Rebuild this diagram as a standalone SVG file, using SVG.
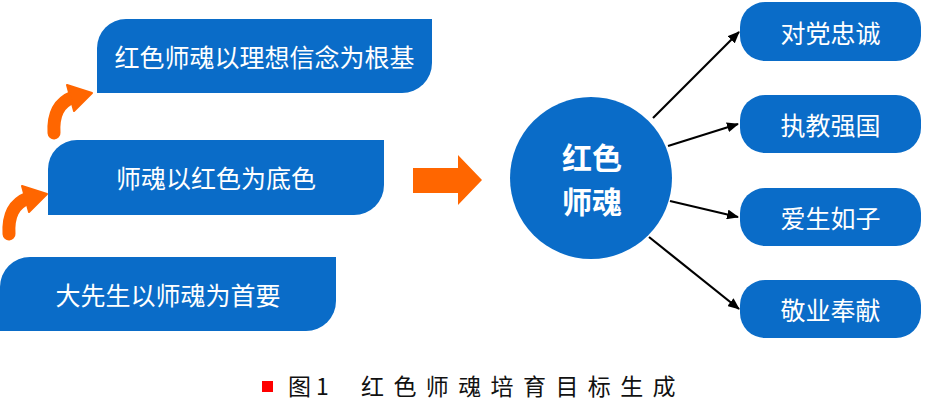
<svg xmlns="http://www.w3.org/2000/svg" width="933" height="416" viewBox="0 0 933 416">
<style>
.box{fill:#0A6CC8;}
.t{font-family:"Noto Sans CJK SC","Microsoft YaHei",sans-serif;font-size:25px;fill:#fff;text-anchor:middle;dominant-baseline:central;}
.ct{font-family:"Noto Sans CJK SC",sans-serif;font-size:30px;font-weight:bold;fill:#fff;text-anchor:middle;dominant-baseline:central;}
.cap{font-family:"Noto Sans CJK SC",sans-serif;font-size:23px;fill:#111;dominant-baseline:central;}
.con{stroke:#000;stroke-width:2.2;fill:none;marker-end:url(#ah);}
.or{fill:#FF6600;}
</style>
<defs>
<marker id="ah" viewBox="0 0 12 10" refX="11" refY="5" markerWidth="12" markerHeight="10" markerUnits="userSpaceOnUse" orient="auto">
<path d="M0,0 L12,5 L0,10 Z" fill="#000"/>
</marker>
<g id="curl">
<path d="M9,234 C8,216 13,204 28,198" stroke="#FF6600" stroke-width="13" fill="none" stroke-linecap="round"/>
<polygon points="22,186 47,194 29,212" fill="#FF6600" stroke="#FF6600" stroke-width="2" stroke-linejoin="round"/>
</g>
</defs>

<g id="node-top">
<path class="box" d="M97,93 L97,48 A29,29 0 0 1 126,19 L432,19 L432,63 A30,30 0 0 1 402,93 Z"/>
<text class="t" x="264.5" y="56">红色师魂以理想信念为根基</text>
</g>
<g id="node-mid">
<path class="box" d="M48,215 L48,169 A29,29 0 0 1 77,140 L384,140 L384,185 A30,30 0 0 1 354,215 Z"/>
<text class="t" x="216" y="177">师魂以红色为底色</text>
</g>
<g id="node-bot">
<path class="box" d="M0,331 L0,287 A30,30 0 0 1 30,257 L336,257 L336,301 A30,30 0 0 1 306,331 Z"/>
<text class="t" x="168" y="294">大先生以师魂为首要</text>
</g>

<g id="curl-arrows">
<use href="#curl"/>
<use href="#curl" transform="translate(45,-101)"/>
</g>

<g id="big-arrow">
<polygon class="or" points="413,168 458,168 458,155 482,180 458,205 458,193 413,193"/>
</g>

<g id="node-center">
<circle cx="591" cy="178" r="81" fill="#0A6CC8"/>
<text class="ct"><tspan x="592" y="156">红色</tspan><tspan x="592" y="200">师魂</tspan></text>
</g>

<g id="node-r1">
<rect class="box" x="740" y="2" width="181" height="59" rx="25"/>
<text class="t" x="830.5" y="31.5">对党忠诚</text>
</g>
<g id="node-r2">
<rect class="box" x="740" y="95" width="181" height="58" rx="25"/>
<text class="t" x="830.5" y="124">执教强国</text>
</g>
<g id="node-r3">
<rect class="box" x="740" y="188" width="181" height="58" rx="25"/>
<text class="t" x="830.5" y="217">爱生如子</text>
</g>
<g id="node-r4">
<rect class="box" x="740" y="280" width="181" height="58" rx="25"/>
<text class="t" x="830.5" y="309">敬业奉献</text>
</g>

<g id="connectors">
<line class="con" x1="653" y1="118" x2="739" y2="32"/>
<line class="con" x1="668" y1="146" x2="738" y2="124"/>
<line class="con" x1="670" y1="201" x2="738" y2="217"/>
<line class="con" x1="649" y1="237" x2="739" y2="309"/>
</g>

<g id="caption">
<rect x="262" y="381" width="11" height="11" fill="#FF0000"/>
<text class="cap" x="288" y="385" letter-spacing="5">图1</text>
<text class="cap" x="361" y="385" letter-spacing="9.4">红色师魂培育目标生成</text>
</g>
</svg>
